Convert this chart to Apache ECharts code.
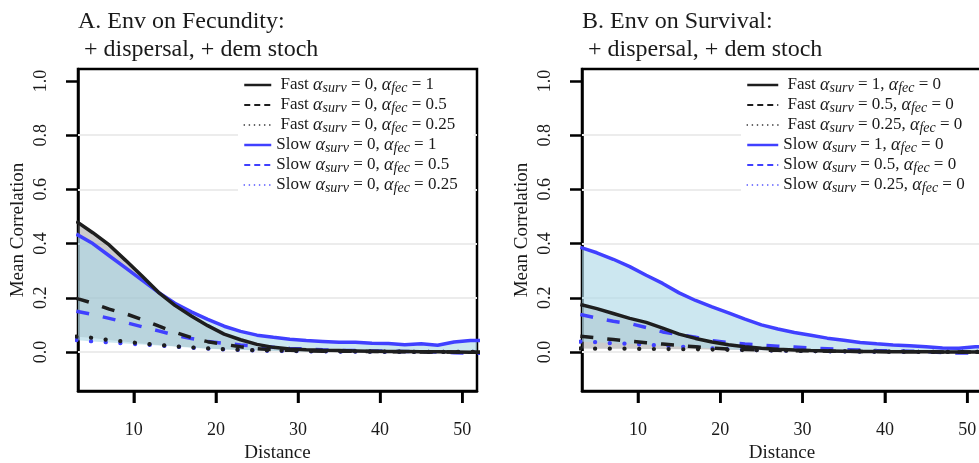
<!DOCTYPE html>
<html>
<head>
<meta charset="utf-8">
<script src="https://cdn.jsdelivr.net/npm/echarts@6/dist/echarts.min.js"></script>
<style>
  html, body { margin: 0; padding: 0; background: #fff; }
  #chart { width: 979px; height: 463px; }
</style>
</head>
<body>
<div id="chart"></div>
<script>
// Distance classes (x) shared by every curve
const distance = [3, 5, 7, 9, 11, 13, 15, 17, 19, 21, 23, 25, 27, 29, 31, 33, 35, 37, 39, 41, 43, 45, 47, 49, 51, 53];

// Panel A: environment acting on fecundity
const fastFec1   = [0.482, 0.440, 0.395, 0.338, 0.280, 0.220, 0.172, 0.133, 0.097, 0.066, 0.045, 0.028, 0.017, 0.011, 0.008, 0.006, 0.005, 0.004, 0.003, 0.002, 0.002, 0.001, 0.001, 0.000, -0.001, -0.001];
const fastFec05  = [0.198, 0.180, 0.158, 0.141, 0.120, 0.096, 0.073, 0.053, 0.038, 0.028, 0.019, 0.012, 0.008, 0.006, 0.004, 0.003, 0.003, 0.002, 0.002, 0.001, 0.001, 0.000, 0.000, 0.000, -0.001, -0.001];
const fastFec025 = [0.057, 0.052, 0.044, 0.038, 0.031, 0.026, 0.021, 0.017, 0.013, 0.010, 0.008, 0.006, 0.005, 0.004, 0.003, 0.003, 0.002, 0.002, 0.001, 0.001, 0.001, 0.000, 0.000, 0.000, 0.000, 0.000];
const slowFec1   = [0.435, 0.400, 0.355, 0.310, 0.265, 0.220, 0.180, 0.148, 0.120, 0.095, 0.076, 0.062, 0.054, 0.047, 0.042, 0.039, 0.036, 0.036, 0.032, 0.031, 0.027, 0.030, 0.025, 0.037, 0.042, 0.043];
const slowFec05  = [0.150, 0.138, 0.124, 0.109, 0.093, 0.078, 0.062, 0.050, 0.039, 0.032, 0.026, 0.021, 0.017, 0.013, 0.011, 0.008, 0.006, 0.005, 0.004, 0.003, 0.002, 0.001, 0.000, -0.003, -0.005, -0.005];
const slowFec025 = [0.044, 0.039, 0.035, 0.031, 0.028, 0.024, 0.020, 0.016, 0.012, 0.009, 0.007, 0.005, 0.004, 0.003, 0.002, 0.002, 0.001, 0.001, 0.001, 0.000, 0.000, 0.000, 0.000, 0.000, 0.000, 0.000];

// Panel B: environment acting on survival
const fastSurv1   = [0.175, 0.160, 0.142, 0.124, 0.109, 0.088, 0.066, 0.050, 0.037, 0.027, 0.019, 0.014, 0.010, 0.007, 0.005, 0.004, 0.003, 0.002, 0.002, 0.001, 0.001, 0.001, 0.000, 0.000, 0.000, 0.000];
const fastSurv05  = [0.058, 0.052, 0.046, 0.040, 0.034, 0.029, 0.024, 0.019, 0.014, 0.011, 0.009, 0.007, 0.006, 0.005, 0.004, 0.003, 0.003, 0.002, 0.002, 0.001, 0.001, 0.001, 0.000, 0.000, 0.000, 0.000];
const fastSurv025 = [0.013, 0.012, 0.012, 0.012, 0.011, 0.011, 0.010, 0.010, 0.009, 0.008, 0.007, 0.006, 0.005, 0.004, 0.003, 0.003, 0.002, 0.002, 0.001, 0.001, 0.001, 0.000, 0.000, 0.000, 0.000, 0.000];
const slowSurv1   = [0.386, 0.366, 0.342, 0.315, 0.283, 0.253, 0.218, 0.190, 0.166, 0.144, 0.121, 0.100, 0.085, 0.072, 0.062, 0.051, 0.043, 0.035, 0.030, 0.026, 0.023, 0.019, 0.015, 0.014, 0.019, 0.019];
const slowSurv05  = [0.138, 0.125, 0.113, 0.105, 0.090, 0.074, 0.064, 0.054, 0.042, 0.035, 0.029, 0.025, 0.021, 0.018, 0.015, 0.012, 0.009, 0.007, 0.005, 0.004, 0.003, 0.001, -0.002, -0.004, -0.004, -0.003];
const slowSurv025 = [0.038, 0.036, 0.032, 0.030, 0.027, 0.023, 0.020, 0.017, 0.013, 0.010, 0.008, 0.006, 0.005, 0.004, 0.003, 0.002, 0.002, 0.001, 0.001, 0.001, 0.000, 0.000, 0.000, 0.000, 0.000, 0.000];

// Axis ticks and reference levels
const xTicks = [10, 20, 30, 40, 50];
const yTicks = [0.0, 0.2, 0.4, 0.6, 0.8, 1.0];
const gridLevels = [0.0, 0.2, 0.4, 0.6, 0.8];
const X_MIN = 3.2, X_MAX = 51.8, Y_MIN = -0.144, Y_MAX = 1.044;

// Titles and legend entries
const panelTitles = ['A. Env on Fecundity:\n + dispersal, + dem stoch', 'B. Env on Survival:\n + dispersal, + dem stoch'];
const lifeHistory = ['Fast', 'Fast', 'Fast', 'Slow', 'Slow', 'Slow'];
const alphaSurvA = ['0', '0', '0', '0', '0', '0'];
const alphaFecA  = ['1', '0.5', '0.25', '1', '0.5', '0.25'];
const alphaSurvB = ['1', '0.5', '0.25', '1', '0.5', '0.25'];
const alphaFecB  = ['0', '0', '0', '0', '0', '0'];

const FONT = 'Liberation Serif';
const TEXT = '#1a1a1a';
const BLACK = '#1e1e1e';
const BLUE = '#4040ff';

const entryName = (i, surv, fec) => lifeHistory[i] + ' α_surv = ' + surv[i] + ', α_fec = ' + fec[i];

function legendLabel(name) {
  const m = name.match(/^(\w+) α_surv = ([\d.]+), α_fec = ([\d.]+)$/);
  const lead = m[1] === 'Fast' ? ' Fast ' : 'Slow ';
  return '{t|' + lead + '}{a|α}{s|surv}{m| = ' + m[2] + ', }{a|α}{s|fec}{m| = ' + m[3] + '}';
}

const pairs = ys => distance.map((x, i) => [x, ys[i]]);

// line appearance per curve: solid, dashed, dotted
const curveStyles = {
  solid:  { width: 3.5, type: 'solid', cap: 'butt' },
  dashed: { width: 3.5, type: [13, 14], cap: 'butt' },
  dotted: { width: 4.2, type: [0.1, 14.6], cap: 'round' }
};
const keyStyles = {
  solid:  { width: 2.5, type: 'solid', cap: 'butt' },
  dashed: { width: 2.2, type: [6, 4], cap: 'butt' },
  dotted: { width: 1.6, type: [0.1, 5], cap: 'round' }
};
const kinds = ['solid', 'dashed', 'dotted', 'solid', 'dashed', 'dotted'];
const colors = [BLACK, BLACK, BLACK, BLUE, BLUE, BLUE];

const panels = [
  { left: 78, width: 399, fast: [fastFec1, fastFec05, fastFec025], slow: [slowFec1, slowFec05, slowFec025],
    surv: alphaSurvA, fec: alphaFecA, keyLeft: 238, keyWidth: 27 },
  { left: 582, width: 400, fast: [fastSurv1, fastSurv05, fastSurv025], slow: [slowSurv1, slowSurv05, slowSurv025],
    surv: alphaSurvB, fec: alphaFecB, keyLeft: 741, keyWidth: 31 }
];

// polygon between an upper and a lower curve, built on the axis scales
function bandSeries(k, hi, lo, fill) {
  return {
    type: 'custom', xAxisIndex: k, yAxisIndex: k, clip: true, silent: true, z: 2,
    data: distance.map((x, i) => [x, hi[i], lo[i]]),
    encode: { x: 0, y: [1, 2] },
    renderItem: (params, api) => {
      if (params.dataIndex !== 0) return null;
      const upper = distance.map((x, i) => api.coord([x, hi[i]]));
      const lower = distance.map((x, i) => api.coord([x, lo[i]])).reverse();
      return { type: 'polygon', shape: { points: upper.concat(lower) }, style: { fill: fill } };
    }
  };
}

// outward tick marks under the bottom edge, one per distance tick value
function xTickSeries(k) {
  return {
    type: 'custom', xAxisIndex: k, yAxisIndex: k, clip: false, silent: true, z: 6,
    data: xTicks.map(v => [v, Y_MIN]),
    encode: { x: 0, y: 1 },
    renderItem: (params, api) => {
      const pt = api.coord([api.value(0), api.value(1)]);
      return { type: 'line', shape: { x1: pt[0], y1: pt[1], x2: pt[0], y2: pt[1] + 12 },
               style: { stroke: '#000', lineWidth: 2.5 } };
    }
  };
}

const axisLineStyle = { show: true, onZero: false, lineStyle: { color: '#000', width: 2.5 } };

const grid = [], xAxis = [], yAxis = [], series = [], legend = [], title = [];

panels.forEach((p, k) => {
  grid.push({ left: p.left, width: p.width, top: 69, height: 322, show: true,
              outerBoundsMode: 'none', containLabel: false,
              borderColor: '#000', borderWidth: 2.5, backgroundColor: 'transparent' });

  title.push({ text: panelTitles[k], left: p.left - 5, top: 3,
               textStyle: { fontFamily: FONT, fontSize: 24, fontWeight: 'normal', color: TEXT, lineHeight: 28 } });

  xAxis.push({
    type: 'value', gridIndex: k, min: X_MIN, max: X_MAX, position: 'bottom',
    axisLine: axisLineStyle,
    axisTick: { show: true, inside: false, length: 12, customValues: xTicks, lineStyle: { color: '#000', width: 2.5 } },
    axisLabel: { customValues: xTicks, margin: 30, fontFamily: FONT, fontSize: 18, color: TEXT },
    splitLine: { show: false },
    name: 'Distance', nameLocation: 'middle', nameGap: 52,
    nameTextStyle: { fontFamily: FONT, fontSize: 19, color: TEXT }
  });

  yAxis.push({
    type: 'value', gridIndex: k, min: Y_MIN, max: Y_MAX, position: 'left',
    axisLine: axisLineStyle,
    axisTick: { show: true, inside: false, length: 12, customValues: yTicks, lineStyle: { color: '#000', width: 2.5 } },
    axisLabel: { customValues: yTicks, rotate: 90, margin: 28, fontFamily: FONT, fontSize: 18, color: TEXT,
                 formatter: v => v.toFixed(1) },
    splitLine: { show: false },
    name: 'Mean Correlation', nameLocation: 'middle', nameGap: 50, nameRotate: 90,
    nameTextStyle: { fontFamily: FONT, fontSize: 19, color: TEXT }
  });

  // shaded envelopes between the strongest and weakest coupling, per life history
  series.push(bandSeries(k, p.fast[0], p.fast[2], 'rgba(128,128,128,0.40)'));
  series.push(bandSeries(k, p.slow[0], p.slow[2], 'rgba(173,216,230,0.62)'));
  series.push(xTickSeries(k));

  // curves: blue first so black lies on top
  const order = [3, 4, 5, 0, 1, 2];
  const allArrays = [p.fast[0], p.fast[1], p.fast[2], p.slow[0], p.slow[1], p.slow[2]];
  order.forEach((i, n) => {
    const st = curveStyles[kinds[i]];
    const s = {
      type: 'line', name: entryName(i, p.surv, p.fec), xAxisIndex: k, yAxisIndex: k,
      data: pairs(allArrays[i]), symbol: 'none', z: 4,
      lineStyle: { color: colors[i], width: st.width, type: st.type, cap: st.cap },
      itemStyle: { color: colors[i] }
    };
    if (n === 0) {
      s.markLine = {
        silent: true, symbol: 'none', z: 1, label: { show: false },
        lineStyle: { color: '#ececec', width: 2, type: 'solid' },
        data: gridLevels.map(v => ({ yAxis: v }))
      };
    }
    series.push(s);
  });

  legend.push({
    orient: 'vertical', left: p.keyLeft, top: 71,
    padding: [5, 16, 13, 5], itemGap: 1, itemWidth: p.keyWidth, itemHeight: 14,
    backgroundColor: '#fff', selectedMode: false,
    itemStyle: { opacity: 0 },
    data: lifeHistory.map((_, i) => {
      const ks = keyStyles[kinds[i]];
      return { name: entryName(i, p.surv, p.fec),
               lineStyle: { color: colors[i], width: ks.width, type: ks.type, cap: ks.cap } };
    }),
    formatter: legendLabel,
    textStyle: {
      color: TEXT,
      rich: {
        t: { fontFamily: FONT, fontSize: 17, lineHeight: 20, color: TEXT },
        a: { fontFamily: FONT, fontStyle: 'italic', fontSize: 18, lineHeight: 20, color: TEXT },
        s: { fontFamily: FONT, fontStyle: 'italic', fontSize: 14, lineHeight: 12, verticalAlign: 'bottom', color: TEXT },
        m: { fontFamily: FONT, fontSize: 17, lineHeight: 20, color: TEXT }
      }
    }
  });
});

const chart = echarts.init(document.getElementById('chart'), null, { renderer: 'canvas' });
chart.setOption({
  animation: false,
  backgroundColor: '#fff',
  title, grid, xAxis, yAxis, legend, series
});
</script>
</body>
</html>
